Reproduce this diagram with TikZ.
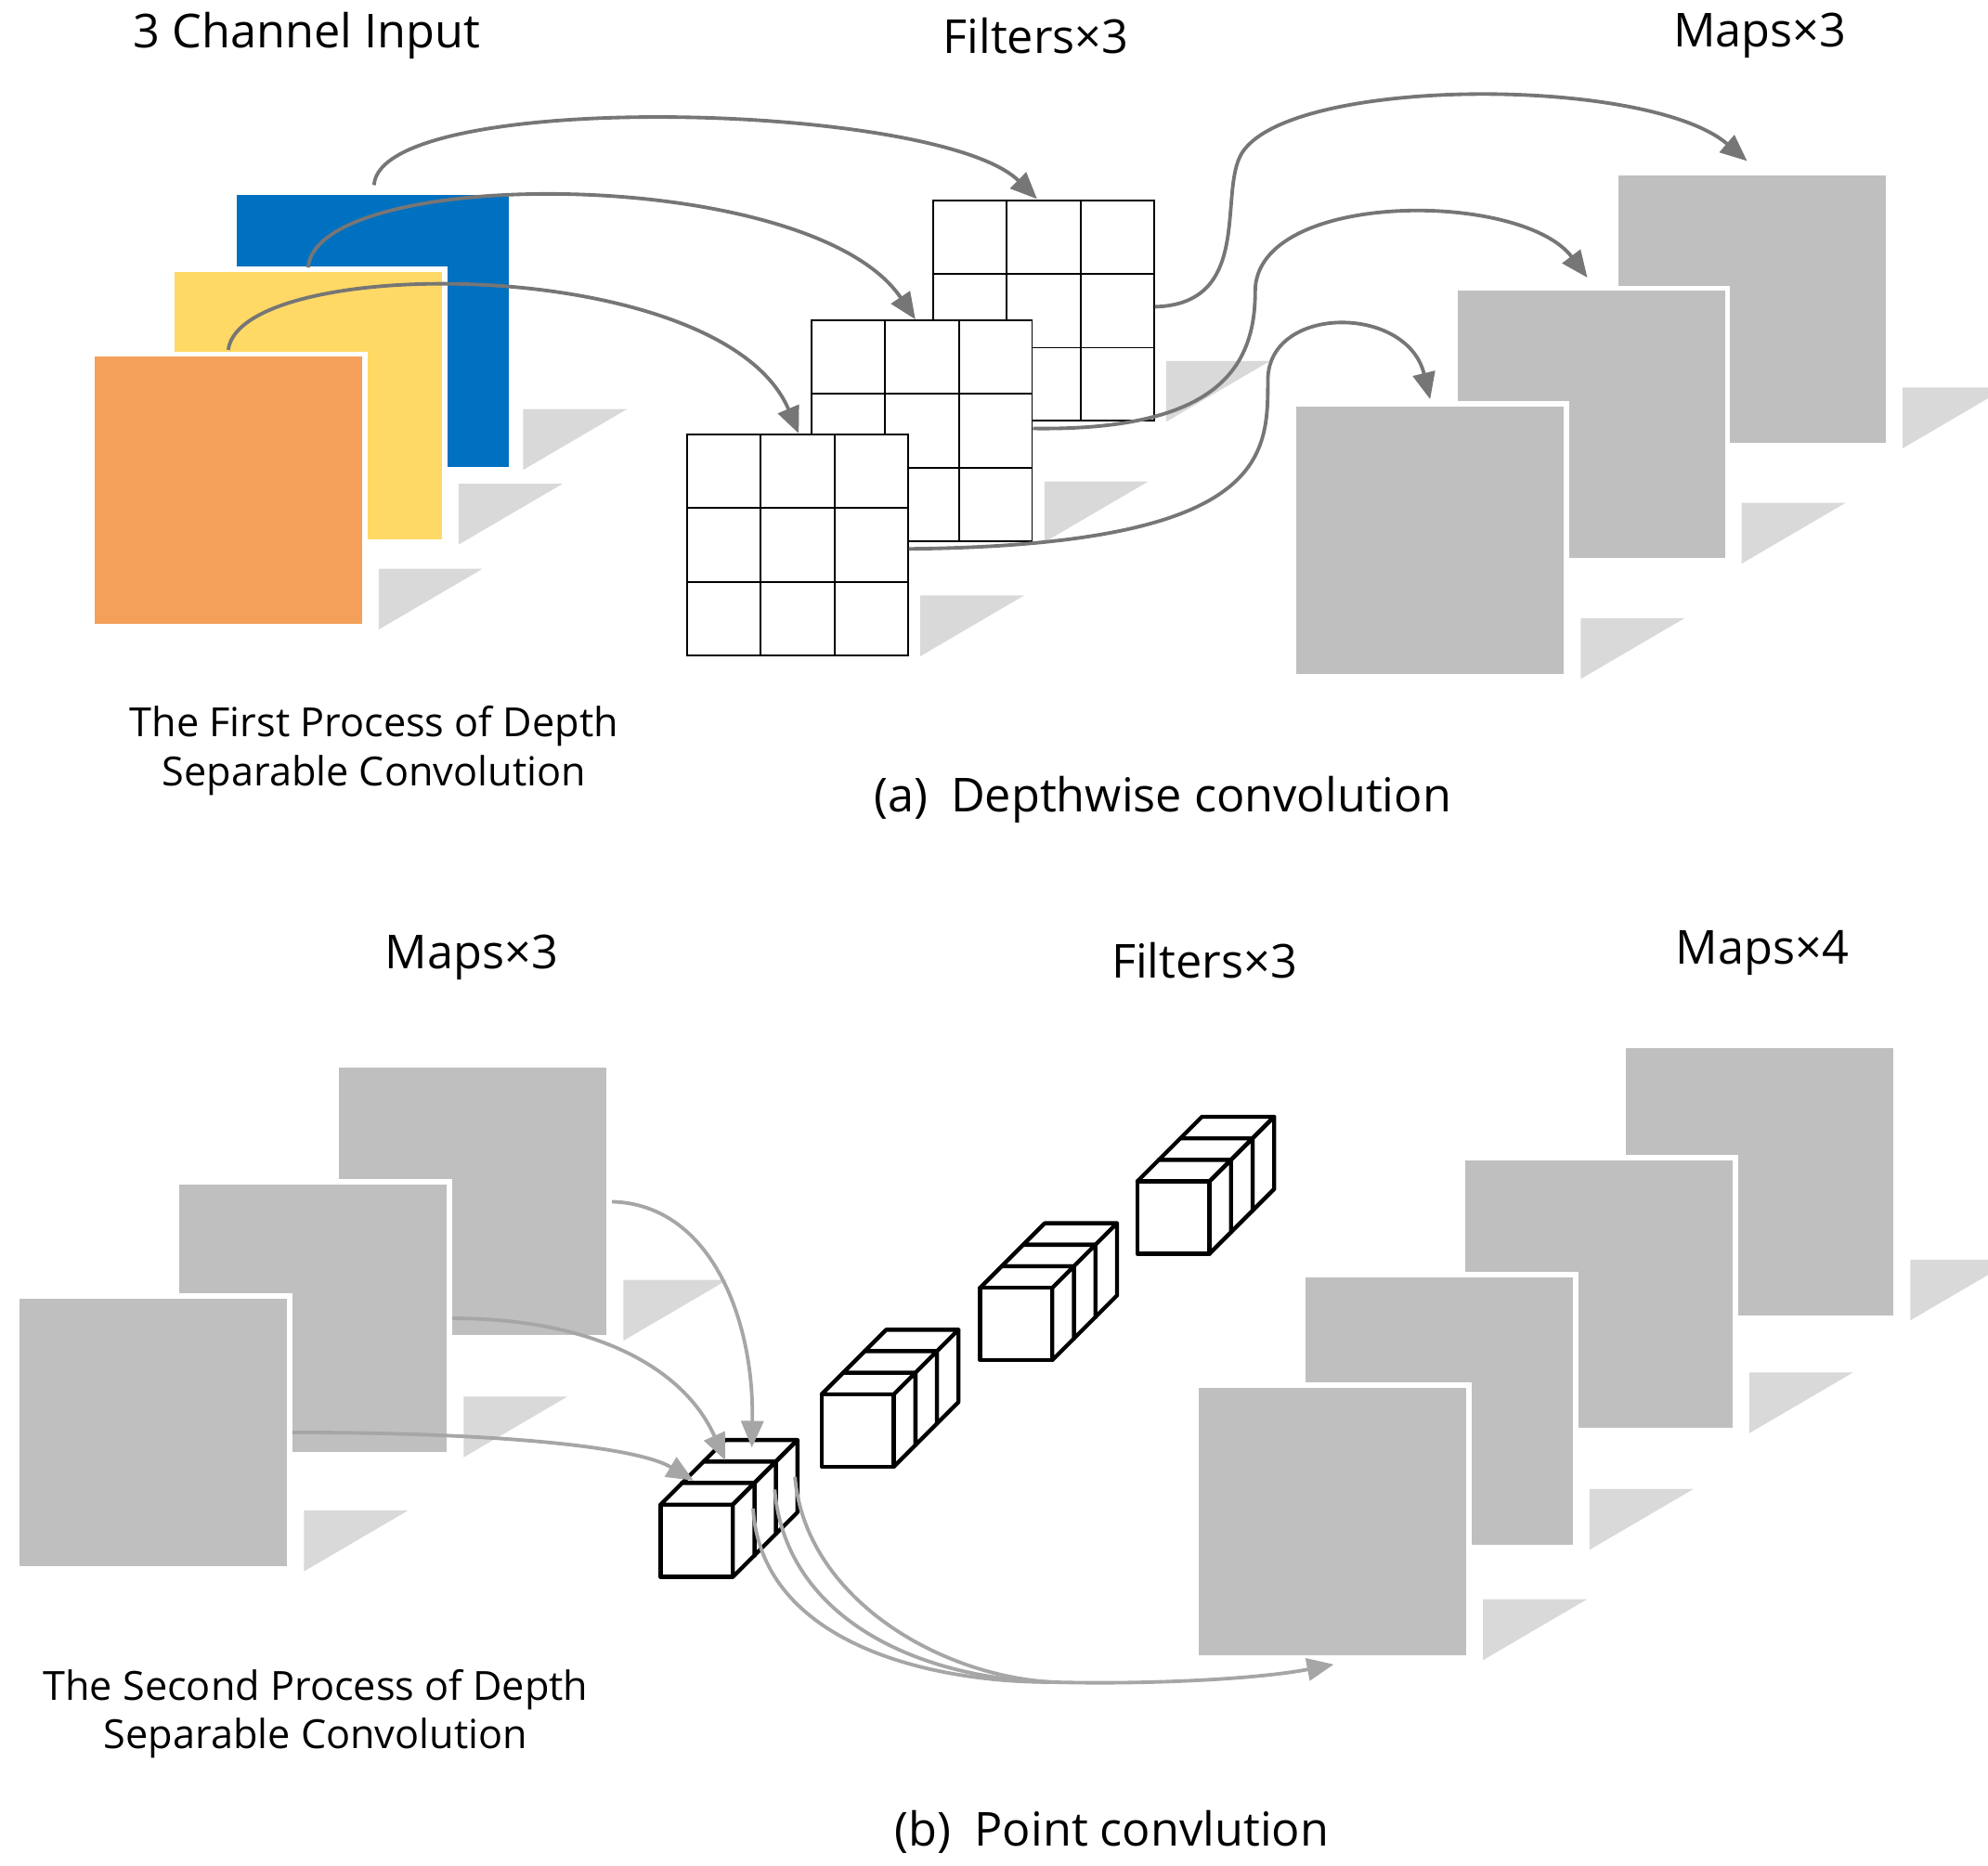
\documentclass[tikz,border=0pt]{standalone}
\usepackage{fontspec}
\setmainfont{Open Sans}
\usetikzlibrary{calc,arrows.meta}
\definecolor{mapg}{HTML}{BFBFBF}
\definecolor{shd}{HTML}{D9D9D9}
\definecolor{arrd}{HTML}{767676}
\definecolor{arrl}{HTML}{A6A6A6}
\definecolor{cblue}{HTML}{0070C0}
\definecolor{cyel}{HTML}{FFD966}
\definecolor{corg}{HTML}{F4A05A}
\tikzset{
  sq/.style={rectangle,inner sep=0,minimum size=2.15cm,draw=white,line width=1.2pt},
  map/.style={sq,fill=mapg},
  filt/.style={rectangle,inner sep=0,minimum size=1.74cm,draw=black,line width=0.4pt,fill=white},
  ttl/.style={font=\fontsize{10.5}{12}\selectfont},
  sub/.style={font=\fontsize{9}{11}\selectfont,align=center},
  captxt/.style={font=\fontsize{10.5}{12}\selectfont},
  darr/.style={draw=arrd,line width=0.8pt,-{Triangle[length=6pt,width=5pt]}},
  larr/.style={draw=arrl,line width=0.8pt,-{Triangle[length=6pt,width=5pt]}},
  lline/.style={draw=arrl,line width=0.8pt},
  cube/.style={draw=black,line width=0.9pt,fill=white,line join=round}
}
\newcommand\shadowof[1]{\fill[shd] ($(#1.south east)+(9,-48)$) -- ++(82,0) -- ($(#1.south east)+(9,0)$) -- cycle;}
\newcommand\gridof[1]{\foreach \f in {0.3333,0.6667}{\draw[line width=0.4pt] ($(#1.north west)!\f!(#1.north east)$) -- ($(#1.south west)!\f!(#1.south east)$); \draw[line width=0.4pt] ($(#1.north west)!\f!(#1.south west)$) -- ($(#1.north east)!\f!(#1.south east)$);}}
\newcommand\cubestack[3]{%
  \foreach \i in {2,1,0}{%
    \pgfmathsetmacro\dd{17*\i}
    \draw[cube] (#1+\dd,#2-\dd) -- ++(17,-17) -- ++(57,0) -- ++(-17,17) -- cycle;
    \draw[cube] (#1+\dd+57,#2-\dd) -- ++(17,-17) -- ++(0,57) -- ++(-17,17) -- cycle;
    \draw[cube] (#1+\dd,#2-\dd) rectangle ++(57,57);
  }
  \coordinate (#3) at (#1+28,#2+28);
}
\begin{document}
\begin{tikzpicture}[x=0.01cm,y=-0.01cm]
\useasboundingbox (0,0) rectangle (1568,1472);
% ---------- (a) ----------
\node[ttl] (t1) at (242,28) {3 Channel Input};
\node[ttl] (t2) at (817,28) {Filters×3};
\node[ttl] (t3) at (1388,28) {Maps×3};

\node[sq,fill=cblue,draw=none] (in3) at (294,261) {}; \shadowof{in3}
\node[sq,fill=cyel] (in2) at (243,320) {}; \shadowof{in2}
\node[sq,fill=corg] (in1) at (180,387) {}; \shadowof{in1}

\node[filt] (f3) at (823,245) {}; \shadowof{f3} \node[filt] at (823,245) {}; \gridof{f3}
\node[filt] (f2) at (727,340) {}; \shadowof{f2} \node[filt] at (727,340) {}; \gridof{f2}
\node[filt] (f1) at (629,430) {}; \shadowof{f1} \node[filt] at (629,430) {}; \gridof{f1}

\node[map] (a3) at (1382,244) {}; \shadowof{a3}
\node[map] (a2) at (1255,335) {}; \shadowof{a2}
\node[map] (a1) at (1128,426) {}; \shadowof{a1}

\coordinate (s3) at (295,146); \coordinate (s2) at (243,211); \coordinate (s1) at (180,276);
\draw[darr] (s3) .. controls (300,70) and (740,80) .. (818,157);
\draw[darr] (s2) .. controls (250,130) and (640,130) .. (722,252);
\draw[darr] (s1) .. controls (190,200) and (570,200) .. (630,342);
\draw[darr] (f3.east|-0,242) .. controls (990,240) and (960,150) .. (980,120) .. controls (1020,60) and (1300,60) .. (1378,127);
\draw[darr] (f2.east|-0,338) .. controls (960,340) and (990,290) .. (990,230) .. controls (990,150) and (1200,150) .. (1252,219);
\draw[darr] (f1.east|-0,433) .. controls (1000,430) and (1000,360) .. (1000,300) .. controls (1000,240) and (1110,240) .. (1128,315);

\node[sub] (d1) at (295,592) {The First Process of Depth\\Separable Convolution};
\node[captxt] (c1) at (917,631) {(a)\enspace Depthwise convolution};

% ---------- (b) ----------
\node[ttl] (t4) at (372,755) {Maps×3};
\node[ttl] (t5) at (950,758) {Filters×3};
\node[ttl] (t6) at (1390,752) {Maps×4};

\node[map] (b3) at (373,948) {}; \shadowof{b3}
\node[map] (b2) at (247,1040) {}; \shadowof{b2}
\node[map] (b1) at (121,1130) {}; \shadowof{b1}

\node[map] (e4) at (1388,932) {}; \shadowof{e4}
\node[map] (e3) at (1261,1021) {}; \shadowof{e3}
\node[map] (e2) at (1135,1113) {}; \shadowof{e2}
\node[map] (e1) at (1051,1200) {}; \shadowof{e1}

\cubestack{773}{1016}{k3}
\cubestack{897}{932}{k4}
\cubestack{648}{1100}{k2}
\cubestack{521}{1187}{k1}

\draw[larr] (b3.east|-0,948) .. controls (560,950) and (595,1040) .. (593,1142);
\draw[larr] (b2.east|-0,1040) .. controls (470,1040) and (540,1080) .. (572,1152);
\draw[larr] (b1.east|-0,1130) .. controls (380,1130) and (500,1140) .. (547,1168);
\coordinate (o1) at (594,1190); \coordinate (o2) at (611,1175); \coordinate (o3) at (627,1165);
\coordinate (m) at (830,1327);
\draw[lline] (o1) .. controls (600,1290) and (720,1327) .. (m);
\draw[lline] (o2) .. controls (620,1280) and (730,1325) .. (m);
\draw[lline] (o3) .. controls (635,1260) and (740,1322) .. (m);
\draw[larr] (m) .. controls (900,1329) and (990,1325) .. (1052,1313);

\node[sub] (d2) at (249,1352) {The Second Process of Depth\\Separable Convolution};
\node[captxt] (c2) at (877,1445) {(b)\enspace Point convlution};
\end{tikzpicture}
\end{document}
